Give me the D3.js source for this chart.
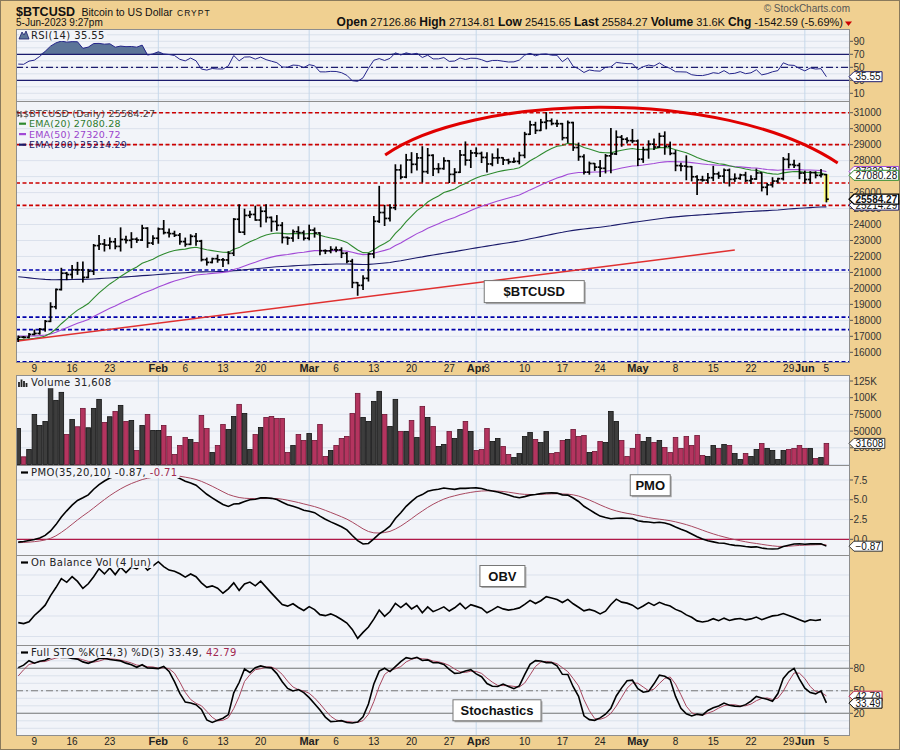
<!DOCTYPE html>
<html>
<head>
<meta charset="utf-8">
<script src="https://cdn.jsdelivr.net/npm/d3@7/dist/d3.min.js"></script>
<style>
html,body{margin:0;padding:0;background:#f0d091;}
svg{display:block;}
text{font-family:"Liberation Sans",Arial,sans-serif;}
.lg{font-family:"DejaVu Sans",Verdana,sans-serif;}
</style>
</head>
<body>
<svg id="chart" width="900" height="750"></svg>
<script>
// ---------------- DATA (daily, 6-Jan-2023 .. 5-Jun-2023) ----------------
const startDay = "2023-01-06";
const opens = [
16830,16950,16940,17120,17180,17440,17940,18850,19930,20950,20870,21170,21160,20690,21080,22680,22780,22710,22920,22630,23060,23010,23080,23030,23770,22840,
23140,23720,23490,23430,23330,22930,22760,23260,22960,21800,21630,21860,21790,21780,22200,24330,23520,24570,24630,24280,24830,24440,24190,23950,23190,23150,23550,23490,
23140,23650,23470,22360,22350,22430,22410,22200,21700,20360,20190,20630,22160,24200,24750,24380,25050,27420,26970,28040,27770,28170,27310,28330,27490,27500,27990,27140,27270,28350,28030,
28480,28450,28200,27790,28170,28180,28040,27920,27950,28330,29650,30240,29890,30400,30490,30320,30310,29430,30380,28820,28250,27280,27820,27590,27520,28300,28420,29470,29340,29250,
29230,28090,28680,29030,28850,29530,28900,28450,27690,27660,27620,26990,26800,26780,26930,27170,27030,27400,26830,26890,27100,26750,26850,27230,26330,26480,26720,26870,28080,27750,27700,
27220,26820,27250,27080,27126.86];
const highs = [
17020,16990,17180,17390,17490,17990,19100,19960,21260,21000,21440,21630,21650,21190,22750,23320,23060,23160,23120,23790,23260,23490,23160,23950,23800,23300,
23780,24250,23720,23580,23430,23150,23360,23440,23010,21900,21890,22080,21880,22300,24370,25230,24960,24830,25150,25100,25240,24470,24560,24120,23210,23650,23860,23600,
23960,23780,23480,22410,22610,22590,22540,22250,21820,20370,20800,22180,24500,26390,25200,25230,27740,27730,28390,28500,28440,28870,28760,28360,27810,28180,28000,27500,28640,29170,28640,
28800,28530,28490,28420,28740,28180,28090,28160,28520,29770,30470,30400,30580,31000,30610,30530,30330,30480,30400,29100,28370,27910,27820,28000,28380,30010,29860,29570,29430,29950,
29290,28840,29240,29360,29710,29800,29160,28630,27830,28300,27630,27060,27020,27190,27640,27280,27470,27470,27170,27150,27270,27050,27470,27230,26570,26930,26890,28190,28440,28030,27830,
27340,27310,27300,27450,27134.81];
const lows = [
16680,16900,16910,17100,17140,17320,17920,18720,19900,20550,20630,20880,20400,20670,20870,22440,22340,22480,22480,22340,22850,22550,22880,23000,22570,22750,
22830,23410,23220,23250,22760,22640,22740,22700,21720,21460,21600,21640,21370,21540,22060,23520,23370,24440,24270,23860,24150,23580,23640,22850,22760,22960,23120,23030,
23040,23210,22100,22180,22230,22300,21930,21600,20050,19570,19930,20460,21920,24130,23940,24220,24930,26860,26930,27240,27410,26660,27200,27070,27240,27460,26630,26680,27250,27720,27570,
28260,27880,27280,27680,27830,27760,27800,27880,27800,28180,29640,29700,29880,29990,30240,30140,29300,29140,28640,28020,27160,27150,27390,27010,27230,27240,28380,28900,29100,29120,
27690,27890,28150,28700,28840,28400,28370,27370,27360,26800,26730,25880,26710,26620,26750,26890,26620,26410,26700,26830,26690,26560,26830,26100,25870,26350,26610,26790,27550,27570,26870,
26610,26580,26920,26970,25415.65];
const closes = [
16950,16940,17120,17180,17440,17940,18850,19930,20950,20870,21170,21160,20690,21080,22680,22780,22710,22920,22630,23060,23010,23080,23030,23770,22840,23140,
23720,23490,23430,23330,22930,22760,23260,22960,21800,21630,21860,21790,21780,22200,24330,23520,24570,24630,24280,24830,24440,24190,23950,23190,23150,23550,23490,23140,
23650,23470,22360,22350,22430,22410,22200,21700,20360,20190,20630,22160,24200,24750,24380,25050,27420,26970,28040,27770,28170,27310,28330,27490,27500,27990,27140,27270,28350,28030,28480,
28450,28200,27790,28170,28180,28040,27920,27950,28330,29650,30240,29890,30400,30490,30320,30310,29430,30380,28820,28250,27280,27820,27590,27520,28300,28420,29470,29340,29250,29230,
28090,28680,29030,28850,29530,28900,28450,27690,27660,27620,26990,26800,26780,26930,27170,27030,27400,26830,26890,27100,26750,26850,27230,26330,26480,26720,26870,28080,27750,27700,27220,
26820,27250,27080,27130,25584.27];
const volumes = [
54000,11500,22500,75000,58500,64500,115000,96000,108000,45000,
67500,56500,84000,55000,84000,97500,63000,71500,79500,88500,
64500,66000,21000,58500,75000,51000,51000,58500,42000,15000,
28500,40500,37500,33000,73500,54000,18000,28500,60000,52500,
72000,90000,76500,22500,45000,55500,70500,72000,69000,69000,
18000,28500,45000,36000,46500,36000,60000,12000,21000,28500,
39000,42000,76500,106500,70500,64500,94500,109500,75000,57000,
97500,49500,49500,66000,40500,87000,70500,57000,27000,30000,
49500,39000,52500,64500,49500,21000,22500,54000,34500,39000,
27000,15000,10500,16500,42000,48000,37500,33000,49500,16500,
18000,36000,37500,52500,42000,43500,18000,19500,34500,33000,
79500,64500,36000,12000,24000,45000,34500,40500,33000,36000,
25500,18000,40500,24000,42000,28500,43500,13500,12000,28500,
24000,30000,28500,16500,7500,16500,12000,22500,31500,24000,
21000,7500,21000,22500,24000,28500,24000,24000,9000,10500,31608];
// warm-up history for the indicators (1-Dec-2022 .. 5-Jan-2023)
const warmCloses = [16980,17090,16890,17110,16970,17090,16840,17220,17130,17130,17090,17210,17780,17810,17360,16630,16780,16740,16440,16900,16820,16830,16780,16840,16830,16920,16710,16550,16630,16600,16540,16610,16670,16680,16850,16830];
const warmHighs  = [17200,17100,17160,17190,17380,17110,17130,17290,17300,17220,17260,17240,18000,18370,17830,17530,16800,16860,16820,17040,16910,16860,16900,16870,16860,16940,16960,16780,16650,16640,16640,16630,16760,16780,16990,16880];
const warmLows   = [16870,16790,16870,16880,16920,16900,16690,16780,17100,17090,17070,16870,17090,17670,17280,16600,16590,16690,16400,16400,16750,16570,16760,16790,16730,16790,16620,16470,16510,16350,16500,16490,16550,16610,16660,16760];
const ema50Seed = 17600, ema200Seed = 22450;

// reference lines and annotations
const redLevels  = [31000, 29000, 26600, 25200];
const blueLevels = [21150, 18200, 17420, 15410];
const trendLine  = [[-1.5, 16640], [133.0, 22400]];
const arcCurve   = [[68.1, 28350], [83.8, 32110], [130.2, 32735], [152.1, 27850]];
const tickDays   = ["2023-01-09","2023-01-16","2023-01-23","2023-02-01","2023-02-06","2023-02-13","2023-02-20","2023-03-01","2023-03-06","2023-03-13","2023-03-20","2023-03-27","2023-04-01","2023-04-03","2023-04-10","2023-04-17","2023-04-24","2023-05-01","2023-05-08","2023-05-15","2023-05-22","2023-05-29","2023-06-01","2023-06-05"];
const priceTicks = d3.range(16000, 31001, 1000);
const rsiTicks = [10,30,50,70,90];
const volTicks = [25000,50000,75000,100000,125000];
const volTickLabels = ["25000","50000","75000","100K","125K"];
const pmoTicks = [0,2.5,5,7.5];
const stoTicks = [20,50,80];
const last = {rsi:35.55, close:25584.27, ema20:27080.28, ema50:27320.72, ema200:25214.29, vol:31608, pmo:-0.87, pmoSig:-0.71, k:33.49, d:42.79};

// ---------------- INDICATORS ----------------
const W = warmCloses.length;
const allC = warmCloses.concat(closes), allH = warmHighs.concat(highs), allL = warmLows.concat(lows);
function ema(arr, n, seed){ const k=2/(n+1); let e = seed===undefined? arr[0] : seed; return arr.map((v,i)=> (seed===undefined && i===0)? e : (e = e + k*(v-e))); }
const ema20 = ema(allC,20).slice(W), ema50 = ema(allC,50,ema50Seed).slice(W), ema200 = ema(allC,200,ema200Seed).slice(W);
// RSI (Wilder)
const rsiAll = new Array(allC.length).fill(null);
{ let g=0,l=0; for(let i=1;i<=14;i++){const d=allC[i]-allC[i-1]; if(d>0) g+=d; else l-=d;} g/=14; l/=14; rsiAll[14]=100-100/(1+g/l);
  for(let i=15;i<allC.length;i++){const d=allC[i]-allC[i-1]; g=(g*13+Math.max(d,0))/14; l=(l*13+Math.max(-d,0))/14; rsiAll[i]=100-100/(1+g/l);} }
const rsi = rsiAll.slice(W);
// PMO
const pmoAll=[0]; { let s=0,p=0; for(let i=1;i<allC.length;i++){const roc=allC[i]/allC[i-1]*100-100; s+= (roc-s)*2/35; p+=(10*s-p)*2/20; pmoAll.push(p);} }
const pmo = pmoAll.slice(W), pmoSig = ema(pmoAll,10).slice(W);
// Full stochastics
const fastK = allC.map((c,i)=>{ if(i<13) return null; const hh=d3.max(allH.slice(i-13,i+1)), ll=d3.min(allL.slice(i-13,i+1)); return (c-ll)/(hh-ll)*100; });
const fullK = fastK.map((v,i)=> i<15? null : d3.mean(fastK.slice(i-2,i+1)));
const fullD = fullK.map((v,i)=> i<17? null : d3.mean(fullK.slice(i-2,i+1)));
const stoK = fullK.slice(W), stoD = fullD.slice(W);
// OBV (through 4 Jun)
const obv=[]; { let o=0; closes.forEach((c,i)=>{ const pc = i===0? warmCloses[W-1] : closes[i-1]; if(c>pc) o+=volumes[i]; else if(c<pc) o-=volumes[i]; obv.push(o); }); }
const obvShown = obv.slice(0, obv.length-1);

// ---------------- LAYOUT ----------------
const svg = d3.select("#chart");
const TAN="#f0d091", BG="#f2f4f9", GRID="#dbe1ec", VGRID="#c6d8ea", BORDER="#8e8e8e";
const L=16, R=850;
const P = {rsi:[29,101], price:[101,362], vol:[375,465], pmo:[465,555], obv:[555,645], sto:[645,735]};
const x  = d3.scaleLinear().domain([3,150]).range([34.4,826.4]);
const yR = d3.scaleLinear().domain([0,100]).range([99.8,34.8]);
const yP = d3.scaleLinear().domain([16000,31000]).range([352.3,112.7]);
const yV = d3.scaleLinear().domain([0,125000]).range([464.5,381]);
const yM = d3.scaleLinear().domain([0,7.5]).range([539.3,480]);
const yS = d3.scaleLinear().domain([20,80]).range([713.3,668.3]);
const yO = d3.scaleLinear().domain(d3.extent(obvShown)).range([638.3,561.7]);
const day0 = d3.timeParse("%Y-%m-%d")(startDay);
const dates = closes.map((_,i)=>d3.timeDay.offset(day0,i));

svg.append("rect").attr("width",900).attr("height",750).attr("fill",TAN);
svg.append("rect").attr("x",0.5).attr("y",0.5).attr("width",899).attr("height",749).attr("fill","none").attr("stroke","#8a7a5c");
const defs = svg.append("defs");
const layers = {};
Object.entries(P).forEach(([k,[t,b]])=>{
  svg.append("rect").attr("x",L).attr("y",t).attr("width",R-L).attr("height",b-t).attr("fill",BG);
  defs.append("clipPath").attr("id","clip-"+k).append("rect").attr("x",L).attr("y",t).attr("width",R-L).attr("height",b-t);
  layers[k] = svg.append("g").attr("clip-path",`url(#clip-${k})`);
});
function hgrid(layer, ys){ layers[layer].selectAll(null).data(ys).enter().append("line").attr("x1",L).attr("x2",R).attr("y1",d=>d).attr("y2",d=>d).attr("stroke",GRID).attr("stroke-width",1); }
hgrid("rsi", d3.range(0,101,10).map(yR));
hgrid("price", d3.range(15000,32001,1000).map(yP));
hgrid("vol", d3.range(0,125001,25000).map(yV));
hgrid("pmo", d3.range(-2.5,10.1,2.5).map(yM));
hgrid("obv", d3.range(0,4).map(k=>P.obv[0]+20+20.5*k));
hgrid("sto", d3.range(0,101,10).map(yS));
// month grid lines
const monthIdx = dates.map((d,i)=>d.getDate()===1? i : null).filter(v=>v!==null);
Object.keys(P).forEach(k=>{
  layers[k].selectAll(null).data(monthIdx).enter().append("line").attr("x1",d=>x(d)).attr("x2",d=>x(d)).attr("y1",P[k][0]).attr("y2",P[k][1]).attr("stroke",VGRID).attr("stroke-width",1);
});

// ---------------- RSI ----------------
const idx = closes.map((_,i)=>i);
layers.rsi.append("path").datum(idx).attr("fill","#5c7498")
  .attr("d", d3.area().x(i=>x(i)).y0(yR(70)).y1(i=>yR(Math.max(70,rsi[i]))));
[[70,null],[30,null],[50,"7,3,2,3"]].forEach(([v,dash])=>{
  layers.rsi.append("line").attr("x1",L).attr("x2",R).attr("y1",yR(v)).attr("y2",yR(v)).attr("stroke","#1c1c6e").attr("stroke-width",1.3).attr("stroke-dasharray",dash);
});
layers.rsi.append("path").datum(idx).attr("fill","none").attr("stroke","#24248a").attr("stroke-width",1)
  .attr("d", d3.line().x(i=>x(i)).y(i=>yR(rsi[i])));

// ---------------- PRICE ----------------
const pl = layers.price;
redLevels.forEach(v=> pl.append("line").attr("x1",L).attr("x2",R).attr("y1",yP(v)).attr("y2",yP(v)).attr("stroke","#cc0000").attr("stroke-width",1.6).attr("stroke-dasharray","4,2.5"));
blueLevels.forEach(v=> pl.append("line").attr("x1",L).attr("x2",R).attr("y1",yP(v)).attr("y2",yP(v)).attr("stroke","#0000aa").attr("stroke-width",1.6).attr("stroke-dasharray","4,2.5"));
const emaLine = arr => d3.line().x(i=>x(i)).y(i=>yP(arr[i]));
pl.append("path").datum(idx).attr("fill","none").attr("stroke","#1a1a6a").attr("stroke-width",1.1).attr("d",emaLine(ema200));
pl.append("path").datum(idx).attr("fill","none").attr("stroke","#a24ad6").attr("stroke-width",1.1).attr("d",emaLine(ema50));
pl.append("path").datum(idx).attr("fill","none").attr("stroke","#2e8a2e").attr("stroke-width",1.1).attr("d",emaLine(ema20));
pl.append("path").datum(trendLine).attr("fill","none").attr("stroke","#e03030").attr("stroke-width",1.5)
  .attr("d", d3.line().x(d=>x(d[0])).y(d=>yP(d[1])));
// highlight for last bar
const li = closes.length-1;
pl.append("rect").attr("x",x(li)-2.6).attr("width",5.2).attr("y",yP(highs[li])).attr("height",yP(lows[li])-yP(highs[li])).attr("fill","#ffff88");
const bars = pl.append("g").attr("stroke","#000").attr("stroke-width",1.7).attr("fill","none");
idx.forEach(i=>{
  const cx = x(i);
  bars.append("line").attr("x1",cx).attr("x2",cx).attr("y1",yP(highs[i])-0.5).attr("y2",yP(lows[i])+0.5);
  bars.append("line").attr("x1",cx-2.4).attr("x2",cx).attr("y1",yP(opens[i])).attr("y2",yP(opens[i]));
  bars.append("line").attr("x1",cx).attr("x2",cx+2.4).attr("y1",yP(closes[i])).attr("y2",yP(closes[i]));
});
const a = arcCurve.map(d=>[x(d[0]), yP(d[1])]);
pl.append("path").attr("fill","none").attr("stroke","#e00000").attr("stroke-width",3)
  .attr("d",`M${a[0][0]},${a[0][1]}C${a[1][0]},${a[1][1]} ${a[2][0]},${a[2][1]} ${a[3][0]},${a[3][1]}`);

// ---------------- VOLUME ----------------
idx.forEach(i=>{
  const up = closes[i] >= (i===0? warmCloses[W-1] : closes[i-1]);
  layers.vol.append("rect").attr("x",x(i)-2.3).attr("width",4.6).attr("y",yV(volumes[i])).attr("height",yV(0)-yV(volumes[i]))
    .attr("fill", up? "#3d3d3d" : "#b4345f").attr("stroke", up? "#111" : "#6e1634").attr("stroke-width",0.8);
});

// ---------------- PMO ----------------
layers.pmo.append("line").attr("x1",L).attr("x2",R).attr("y1",yM(0)).attr("y2",yM(0)).attr("stroke","#b01848").attr("stroke-width",1.2);
layers.pmo.append("path").datum(idx).attr("fill","none").attr("stroke","#a84860").attr("stroke-width",1).attr("d",d3.line().x(i=>x(i)).y(i=>yM(pmoSig[i])));
layers.pmo.append("path").datum(idx).attr("fill","none").attr("stroke","#000").attr("stroke-width",1.6).attr("d",d3.line().x(i=>x(i)).y(i=>yM(pmo[i])));

// ---------------- OBV ----------------
layers.obv.append("path").datum(obvShown.map((_,i)=>i)).attr("fill","none").attr("stroke","#000").attr("stroke-width",1.6).attr("d",d3.line().x(i=>x(i)).y(i=>yO(obvShown[i])));

// ---------------- STO ----------------
[[80,null],[20,null],[50,"7,3,2,3"]].forEach(([v,dash])=>{
  layers.sto.append("line").attr("x1",L).attr("x2",R).attr("y1",yS(v)).attr("y2",yS(v)).attr("stroke","#7a7a7a").attr("stroke-width",1.1).attr("stroke-dasharray",dash);
});
layers.sto.append("path").datum(idx).attr("fill","none").attr("stroke","#a84860").attr("stroke-width",1).attr("d",d3.line().x(i=>x(i)).y(i=>yS(stoD[i])));
layers.sto.append("path").datum(idx).attr("fill","none").attr("stroke","#000").attr("stroke-width",1.6).attr("d",d3.line().x(i=>x(i)).y(i=>yS(stoK[i])));

// panel borders
Object.values(P).forEach(([t,b])=> svg.append("rect").attr("x",L+0.5).attr("y",t+0.5).attr("width",R-L-1).attr("height",b-t).attr("fill","none").attr("stroke",BORDER));

// ---------------- AXES ----------------
function rightAxis(scale, vals, labels){
  vals.forEach((v,k)=>{
    const y = scale(v);
    svg.append("line").attr("x1",R).attr("x2",R+3).attr("y1",y).attr("y2",y).attr("stroke","#555");
    svg.append("text").attr("x",R+3.5).attr("y",y+3.6).attr("font-size",10).attr("fill","#333").text(labels? labels[k] : v);
  });
}
rightAxis(yR, rsiTicks);
rightAxis(yP, priceTicks);
rightAxis(yV, volTicks, volTickLabels);
rightAxis(yM, pmoTicks, pmoTicks.map(d3.format(".1f")));
rightAxis(yS, stoTicks);

const tp = d3.timeParse("%Y-%m-%d");
function dateAxis(yBase){
  tickDays.forEach(s=>{
    const d = tp(s), i = d3.timeDay.count(day0,d), m = d.getDate()===1;
    svg.append("text").attr("x",x(i)).attr("y",yBase).attr("text-anchor","middle")
      .attr("font-size", m?11:10).attr("font-weight", m?"bold":"normal").attr("fill","#222")
      .text(m? d3.timeFormat("%b")(d) : d.getDate());
  });
}
dateAxis(371.8);
dateAxis(744.5);

// value tags on the right
function valTag(y, txt, color, opts={}){
  const g = svg.append("g");
  const t = g.append("text").attr("x",R+5.5).attr("y",y+3.6).attr("font-size",10)
    .attr("font-weight",opts.bold?"bold":"normal").attr("fill",opts.fill||"#111").text(txt);
  const w = t.node().getComputedTextLength();
  const h = 5;
  g.insert("path","text").attr("d",`M${R-1},${y}L${R+4},${y-h}L${R+7+w},${y-h}L${R+7+w},${y+h}L${R+4},${y+h}Z`)
    .attr("fill","#fff").attr("stroke",color).attr("stroke-width",opts.bold?1.2:1);
}
valTag(yR(last.rsi), d3.format(".2f")(last.rsi), "#1c1c6e");
valTag(yP(last.ema50), d3.format(".2f")(last.ema50), "#a24ad6");
valTag(yP(last.ema20), d3.format(".2f")(last.ema20), "#2e8a2e");
valTag(yP(last.ema200), d3.format(".2f")(last.ema200), "#1a1a6a");
valTag(yP(last.close), d3.format(".2f")(last.close), "#000", {bold:true});
valTag(yV(last.vol), String(last.vol), "#333");
valTag(yM(last.pmo), d3.format(".2f")(last.pmo), "#333");
valTag(yS(last.d), d3.format(".2f")(last.d), "#b01848");
valTag(yS(last.k), d3.format(".2f")(last.k), "#000");

// ---------------- LEGENDS ----------------
function legend(xp, yb, parts, opts={}){
  const g = svg.append("g");
  const bg = g.append("rect").attr("fill",BG);
  const t = g.append("text").attr("class","lg").attr("x",xp).attr("y",yb).attr("font-size",opts.size||10).attr("letter-spacing",opts.ls||0.4);
  parts.forEach(([s,c])=> t.append("tspan").attr("fill",c||"#333").text(s));
  if(opts.bg){ const b=t.node().getBBox(); bg.attr("x",b.x-12).attr("y",b.y).attr("width",b.width+14).attr("height",b.height); } else bg.remove();
  if(opts.dash) g.append("line").attr("x1",xp-10).attr("x2",xp-3).attr("y1",yb-3.5).attr("y2",yb-3.5).attr("stroke",opts.dash).attr("stroke-width",2.2);
  return g;
}
// RSI
legend(31, 39, [[`RSI(14) ${last.rsi}`,"#222"]], {bg:true});
svg.append("path").attr("d","M19,39L22,32L24,35L26,31L29,39Z").attr("fill","#5c7498").attr("stroke","#1c1c6e").attr("stroke-width",0.8);
// price
legend(23, 116.5, [[`$BTCUSD (Daily) ${last.close}`,"#444"]], {size:9.5, ls:0.2});
svg.append("path").attr("d","M18,110.5V117M16.5,112H18M18,115.5H19.5M21,111V117.5M19.5,113H21M21,116H22.5").attr("stroke","#333").attr("stroke-width",1).attr("fill","none");
legend(29, 127.2, [[`EMA(20) ${last.ema20}`,"#2e7a2e"]], {size:9.5, ls:0.2, dash:"#2e8a2e"});
legend(29, 137.6, [[`EMA(50) ${last.ema50}`,"#9a44cc"]], {size:9.5, ls:0.2, dash:"#a24ad6"});
legend(29, 148.2, [[`EMA(200) ${last.ema200}`,"#1a1a6a"]], {size:9.5, ls:0.2, dash:"#1a1a6a"});
// volume
legend(31, 386.2, [[`Volume ${d3.format(",")(last.vol)}`,"#222"]], {bg:true});
svg.append("path").attr("d","M19,387V382M21.5,387V379.5M24,387V381M26.5,387V383").attr("stroke","#222").attr("stroke-width",1.8);
// PMO
legend(31, 476, [[`PMO(35,20,10) ${last.pmo}, `,"#222"],[`${last.pmoSig}`,"#a02850"]], {bg:true, dash:"#000"});
// OBV
legend(31, 566, [["On Balance Vol (4 Jun)","#222"]], {bg:true, dash:"#000"});
// STO
legend(31, 656, [[`Full STO %K(14,3) %D(3) ${last.k}, `,"#222"],[`${last.d}`,"#a02850"]], {bg:true, dash:"#000"});

// ---------------- NOTE BOXES ----------------
function noteBox(px, py, w, h, txt){
  svg.append("rect").attr("x",px+2).attr("y",py+2).attr("width",w).attr("height",h).attr("fill","#a9a9a9");
  svg.append("rect").attr("x",px+0.5).attr("y",py+0.5).attr("width",w).attr("height",h).attr("fill","#fff").attr("stroke","#777");
  svg.append("text").attr("x",px+w/2+0.5).attr("y",py+h/2+5).attr("text-anchor","middle").attr("font-size",13).attr("font-weight","bold").attr("fill","#111").text(txt);
}
noteBox(x(86.4), yP(20520), 100, 22, "$BTCUSD");
noteBox(x(113.5), yM(8.23), 40, 21, "PMO");
noteBox(x(85.6), P.obv[0]+10, 45, 21, "OBV");
noteBox(x(80.6), yS(38.7), 88, 21, "Stochastics");

// ---------------- HEADER ----------------
svg.append("text").attr("x",16).attr("y",16).attr("font-size",12.5).attr("font-weight","bold").attr("fill","#111").text("$BTCUSD");
svg.append("text").attr("x",81.5).attr("y",16).attr("font-size",10.5).attr("fill","#111").text("Bitcoin to US Dollar");
svg.append("text").attr("x",177).attr("y",15.5).attr("font-size",8.5).attr("letter-spacing",1).attr("fill","#111").text("CRYPT");
svg.append("text").attr("x",16).attr("y",26).attr("font-size",10).attr("fill","#111").text("5-Jun-2023 9:27pm");
svg.append("text").attr("x",850).attr("y",12).attr("text-anchor","end").attr("font-size",10).attr("fill","#555").text("\u00A9 StockCharts.com");
const hdr = svg.append("text").attr("x",843).attr("y",26).attr("text-anchor","end").attr("fill","#111");
[["Open",1],[" 27126.86  ",0],["High",1],[" 27134.81  ",0],["Low",1],[" 25415.65  ",0],["Last",1],[" 25584.27  ",0],["Volume",1],[" 31.6K  ",0],["Chg",1],[" -1542.59 (-5.69%)",0]]
  .forEach(([s,b])=> hdr.append("tspan").attr("font-weight",b?"bold":"normal").attr("font-size",b?12:11).text(s));
svg.append("path").attr("d","M845,21.5L852,21.5L848.5,26Z").attr("fill","#cc0000");
</script>
</body>
</html>
